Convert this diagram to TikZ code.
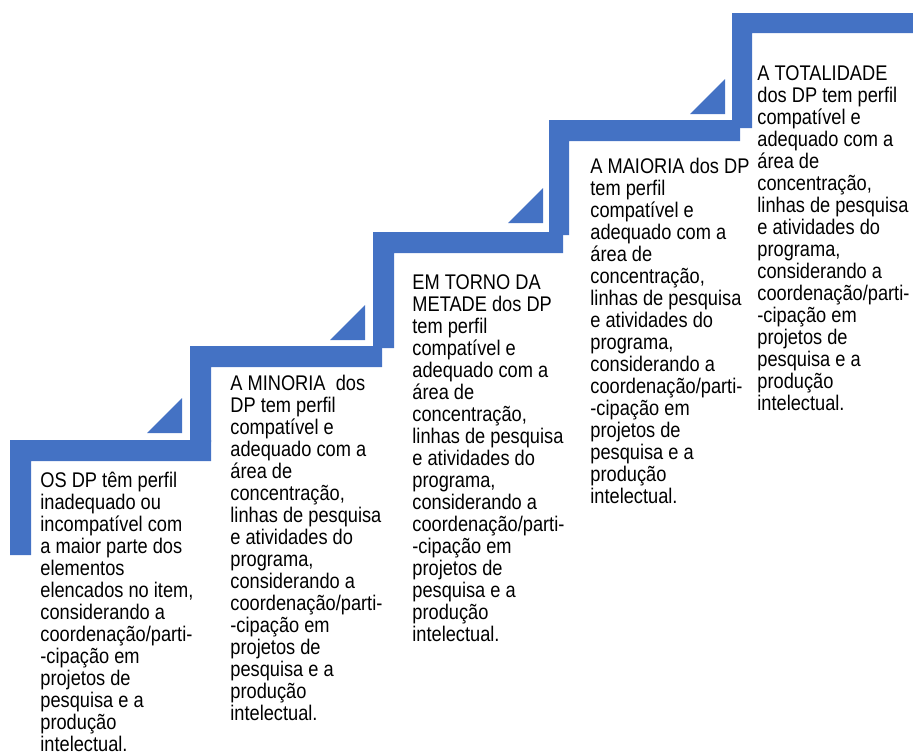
\documentclass[tikz,border=0pt]{standalone}
\usepackage{fontspec}
\setmainfont{Liberation Sans}[FakeStretch=0.86]
\definecolor{stairblue}{HTML}{4472C4}
\newcommand{\restoperfil}{compatível e\\adequado com a\\área de\\concentração,\\linhas de pesquisa\\e atividades do\\programa,\\considerando a\\coordenação/parti-\\-cipação em\\projetos de\\pesquisa e a\\produção\\intelectual.}
\newcommand{\topo}{\rule{0pt}{8.5pt}}

\begin{document}
\begin{tikzpicture}[
  x=0.5pt, y=-0.5pt,
  font=\fontsize{10.6}{11}\selectfont,
  stair/.style={fill=stairblue},
  notch/.style={fill=stairblue},
  steptext/.style={anchor=north west, align=left, inner sep=0pt}
]
  \useasboundingbox (0,0) rectangle (913,755);

  % degraus
  \fill[stair] (10,440) -- (211,440) -- (211,461) -- (31,461) -- (31,555) -- (10,555) -- cycle;
  \fill[stair] (190,346) -- (382,346) -- (382,367) -- (211,367) -- (211,442) -- (190,442) -- cycle;
  \fill[stair] (373,232) -- (563,232) -- (563,253) -- (394,253) -- (394,348) -- (373,348) -- cycle;
  \fill[stair] (549,120) -- (740,120) -- (740,141) -- (569,141) -- (569,235) -- (549,235) -- cycle;
  \fill[stair] (732,13) -- (913,13) -- (913,33) -- (752,33) -- (752,128) -- (732,128) -- cycle;

  % cantos
  \fill[notch] (147,433) -- (182,433) -- (182,398) -- cycle;
  \fill[notch] (330,340) -- (365,340) -- (365,305) -- cycle;
  \fill[notch] (508,223) -- (543,223) -- (543,188) -- cycle;
  \fill[notch] (690,114) -- (725,114) -- (725,79) -- cycle;

  \node[steptext] (nivel1) at (40,470) {\topo OS DP têm perfil\\inadequado ou\\incompatível com\\a maior parte dos\\elementos\\elencados no item,\\considerando a\\coordenação/parti-\\-cipação em\\projetos de\\pesquisa e a\\produção\\intelectual.};
  \node[steptext] (nivel2) at (230,373.5) {\topo A MINORIA\ \ dos\\DP tem perfil\\\restoperfil};
  \node[steptext] (nivel3) at (412,272.5) {\topo EM TORNO DA\\METADE dos DP\\tem perfil\\\restoperfil};
  \node[steptext] (nivel4) at (590,156) {\topo A MAIORIA dos DP\\tem perfil\\\restoperfil};
  \node[steptext] (nivel5) at (757,63.5) {\topo A TOTALIDADE\\dos DP tem perfil\\\restoperfil};
\end{tikzpicture}
\end{document}
